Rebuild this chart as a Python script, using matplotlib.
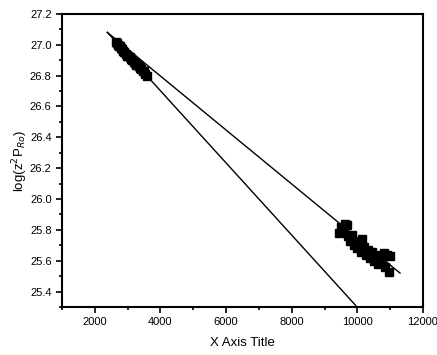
import matplotlib
matplotlib.use("Agg")
import matplotlib.pyplot as plt
from matplotlib.ticker import MultipleLocator

# Cluster near the start (low x)
x_low = [2650, 2680, 2710, 2740, 2770, 2800, 2830, 2860, 2900, 2940, 2980, 3020, 3060,
         3100, 3140, 3180, 3220, 3260, 3300, 3340, 3380, 3420, 3460, 3500, 3540, 3580]
y_low = [27.02, 27.01, 27.00, 26.99, 26.99, 26.98, 26.97, 26.96, 26.95, 26.94, 26.93, 26.93, 26.92,
         26.91, 26.90, 26.89, 26.88, 26.87, 26.87, 26.86, 26.85, 26.84, 26.83, 26.83, 26.81, 26.80]

# Cluster at high x
x_high = [9450, 9500, 9560, 9620, 9680, 9700, 9760, 9830, 9900, 9980, 10050, 10100, 10150, 10200,
          10260, 10320, 10380, 10450, 10500, 10560, 10620, 10680, 10740, 10800, 10850, 10900, 10950, 11000]
y_high = [25.78, 25.82, 25.80, 25.84, 25.83, 25.76, 25.73, 25.77, 25.70, 25.68, 25.72, 25.66, 25.74, 25.69,
          25.64, 25.67, 25.62, 25.66, 25.60, 25.64, 25.58, 25.62, 25.60, 25.65, 25.56, 25.64, 25.53, 25.63]

# Fitted lines
fit1_x = [2380, 11300]
fit1_y = [27.08, 25.52]
fit2_x = [2380, 9950]
fit2_y = [27.08, 25.31]

plt.rcParams['font.family'] = ['Liberation Sans', 'DejaVu Sans']

fig = plt.figure(figsize=(4.37, 3.55), dpi=100)
ax = fig.add_axes([0.142, 0.135, 0.826, 0.826])

ax.plot(fit1_x, fit1_y, color='black', lw=1.0)
ax.plot(fit2_x, fit2_y, color='black', lw=1.0)
ax.plot(x_low, y_low, 's', color='black', ms=5.5)
ax.plot(x_high, y_high, 's', color='black', ms=5.5)

ax.set_xlim(1000, 12000)
ax.set_ylim(25.3, 27.2)
ax.xaxis.set_major_locator(MultipleLocator(2000))
ax.xaxis.set_minor_locator(MultipleLocator(1000))
ax.yaxis.set_major_locator(MultipleLocator(0.2))
ax.yaxis.set_minor_locator(MultipleLocator(0.1))
ax.tick_params(which='both', direction='out', width=1.2, labelsize=8)
ax.tick_params(which='major', length=4)
ax.tick_params(which='minor', length=2.5)
for s in ax.spines.values():
    s.set_linewidth(1.5)

ax.set_xlabel("X Axis Title", fontsize=9.5, labelpad=7)
ax.set_ylabel("log(z$^2$P$_{Ro}$)", fontsize=9.5, labelpad=0)

fig.savefig("out.png", dpi=100)
